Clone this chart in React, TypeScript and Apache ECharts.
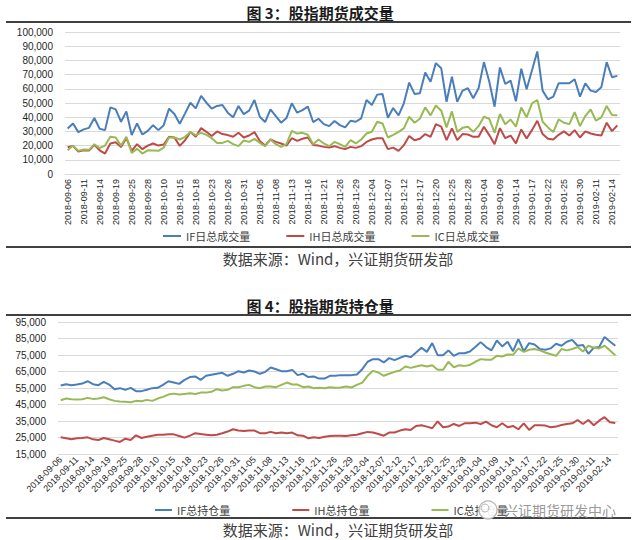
import React, { useEffect, useRef } from "react";
import * as echarts from "echarts";

const dates = [
  "2018-09-06","2018-09-07","2018-09-10","2018-09-11","2018-09-12","2018-09-13","2018-09-14","2018-09-17","2018-09-18","2018-09-19",
  "2018-09-20","2018-09-21","2018-09-25","2018-09-26","2018-09-27","2018-09-28","2018-10-08","2018-10-09","2018-10-10","2018-10-11",
  "2018-10-12","2018-10-15","2018-10-16","2018-10-17","2018-10-18","2018-10-19","2018-10-22","2018-10-23","2018-10-24","2018-10-25",
  "2018-10-26","2018-10-29","2018-10-30","2018-10-31","2018-11-01","2018-11-02","2018-11-05","2018-11-06","2018-11-07","2018-11-08",
  "2018-11-09","2018-11-12","2018-11-13","2018-11-14","2018-11-15","2018-11-16","2018-11-19","2018-11-20","2018-11-21","2018-11-22",
  "2018-11-23","2018-11-26","2018-11-27","2018-11-28","2018-11-29","2018-11-30","2018-12-03","2018-12-04","2018-12-05","2018-12-06",
  "2018-12-07","2018-12-10","2018-12-11","2018-12-12","2018-12-13","2018-12-14","2018-12-17","2018-12-18","2018-12-19","2018-12-20",
  "2018-12-21","2018-12-24","2018-12-25","2018-12-26","2018-12-27","2018-12-28","2019-01-02","2019-01-03","2019-01-04","2019-01-07",
  "2019-01-08","2019-01-09","2019-01-10","2019-01-11","2019-01-14","2019-01-15","2019-01-16","2019-01-17","2019-01-18","2019-01-21",
  "2019-01-22","2019-01-23","2019-01-24","2019-01-25","2019-01-28","2019-01-29","2019-01-30","2019-01-31","2019-02-01","2019-02-11",
  "2019-02-12","2019-02-13","2019-02-14","2019-02-15",
];

// 图3 日总成交量
const ifVolume = [
  32000,35600,29500,31400,32500,39400,31800,30900,46900,45500,
  36800,44100,27400,35600,27800,30400,34400,30900,34400,46000,
  42200,35400,42700,50200,46200,55000,50200,46000,47900,48600,
  43200,39900,47900,42200,44600,52100,40300,36600,45500,40800,
  36100,39400,49800,43200,45000,47400,36600,38900,35100,33700,
  37300,34400,32800,37500,36800,39200,52100,48600,55900,56400,
  39600,46500,41300,49800,64400,56400,56800,71500,64900,78100,
  74500,50900,68600,50900,58700,60400,53300,60400,78800,65100,
  47400,75000,63400,65800,51200,74100,59700,72900,86300,58700,
  52600,54500,63900,63900,63900,66700,54500,63900,58700,57800,
  61100,78800,68200,69100,
];
const ihVolume = [
  18900,19800,15800,16700,16500,20500,16700,14400,21500,22400,
  19100,25200,16300,21000,17500,20000,21500,20000,20800,26200,
  25700,19800,23800,29500,26200,32300,29700,26700,30000,28100,
  27400,26200,29000,25700,27100,29500,23300,20000,24300,22600,
  21500,20000,25200,23300,24800,25700,20500,20000,19100,18600,
  19600,18400,17500,19100,18400,19600,22600,24300,25200,25200,
  17500,18600,16300,20300,26700,23800,24800,28100,26200,35100,
  33300,23800,32100,23800,28100,27800,26200,26200,33300,27400,
  21000,32300,25200,27100,21500,31400,25000,30900,37500,28100,
  24800,24300,27600,30000,27100,30900,25700,30000,28500,27600,
  27100,36100,30200,34200,
];
const icVolume = [
  16700,20000,16300,17200,17000,21000,18200,20000,26200,25700,
  20000,26200,14900,17700,14400,16700,16500,16300,18600,25700,
  25700,24300,26200,29500,27400,29000,27600,25200,21900,21900,
  23300,21000,19600,23600,22600,24800,21900,19600,24300,21000,
  19100,21000,30400,28500,29000,27600,21000,24300,21500,19600,
  22600,21000,19100,23800,21500,24300,28500,29700,36800,35600,
  25700,27600,29700,32100,40300,36100,38900,46900,41300,48300,
  44600,32800,44100,29700,32500,33300,29700,33700,40300,38900,
  29000,42200,35100,38400,33300,46900,39900,49800,52100,36800,
  32800,29500,38400,36100,35100,43600,33700,40800,45500,37500,
  39900,47900,41500,41300,
];

// 图4 总持仓量
const ifOpenInterest = [
  56500,57300,56700,57100,57700,59100,57300,56700,58700,57100,
  54300,54900,53900,55100,53100,53100,53900,54900,55100,56900,
  59100,58300,57500,59900,61600,62000,59900,62400,63000,63600,
  64200,62400,63600,65200,64400,65600,65000,63600,64800,67400,
  66400,65200,65200,66000,62800,63600,61600,62000,60700,60700,
  62400,62400,62800,62800,62800,63200,66400,70900,72500,72500,
  70500,73100,71900,73300,74500,73700,76500,79400,76900,82200,
  74900,74900,77800,74500,76100,76100,77100,79800,82800,79800,
  77800,83800,80200,83000,77300,84600,77300,82200,81400,78600,
  78200,79000,81800,80600,83000,84200,80600,81000,75700,79400,
  79800,85900,83200,80600,
];
const ihOpenInterest = [
  25100,24500,23900,24500,24700,25100,23900,23500,24700,23900,
  23100,22300,24300,23500,26300,24700,25500,26100,26700,26700,
  26900,26900,25900,24900,26100,27600,27100,26700,26300,26700,
  27600,28600,30000,29200,29000,29200,29200,27600,27600,28400,
  27600,28000,27600,28000,26300,26100,24500,25100,24700,25500,
  25900,26100,26100,25900,26300,26700,27600,28400,28000,27100,
  26100,28000,28000,29200,30000,29600,32000,32400,31600,30600,
  34800,31200,31600,33200,32000,33600,33600,34000,33200,34600,
  32400,31200,33600,31200,32000,30000,33600,29600,32400,32400,
  32200,31200,31600,32600,33200,33600,35600,33200,35600,32400,
  35200,37300,34200,33800,
];
const icOpenInterest = [
  47600,48600,48200,48000,48200,49000,48400,48600,49400,48200,
  47200,46800,46600,46400,47200,47000,47800,47200,48600,49600,
  51000,51600,51000,51400,51800,51400,52200,52200,52700,54300,
  53500,53900,55500,55500,56300,56900,55500,54900,55900,55900,
  55500,56900,58300,57100,57100,55500,55900,54900,55100,54900,
  55500,55100,55300,55900,55300,56900,58300,62400,65400,64400,
  62400,63600,64800,65600,68000,67200,68000,68800,68000,68800,
  66000,66000,70900,67600,68800,68400,69000,70900,72500,72100,
  72100,74500,74100,75300,75100,79000,76900,78200,78600,77800,
  76500,75500,74500,78600,77800,78600,79800,77100,80600,79400,
  79000,80600,77800,74900,
];

const volumeNames = ["IF日总成交量", "IH日总成交量", "IC日总成交量"];
const oiNames = ["IF总持仓量", "IH总持仓量", "IC总持仓量"];
const titles = ["图 3：股指期货成交量", "图 4：股指期货持仓量"];
const sourceText = "数据来源：Wind，兴证期货研发部";
const watermarkText = "兴证期货研发中心";

const COLORS = ["#4A7EBB", "#BE4B48", "#98B954"];
const LATIN = '"Liberation Sans", Arial, sans-serif';
const CJK = '"Noto Sans CJK SC", "Liberation Sans", sans-serif';

const fmt = (v: number) => v.toLocaleString("en-US");

export default function App() {
  const ref = useRef<HTMLDivElement>(null);
  useEffect(() => {
    if (!ref.current) return;
    const chart = echarts.init(ref.current, undefined, { renderer: "svg" });

    const xAxisBase = (gridIndex: number, rotate: number, margin: number) => ({
      type: "category",
      gridIndex,
      data: dates,
      boundaryGap: true,
      axisTick: { show: false },
      axisLine: { show: true, lineStyle: { color: "#D9D9D9", width: 1 } },
      axisLabel: {
        interval: 2,
        rotate,
        margin,
        fontSize: 9,
        color: "#262626",
        fontFamily: LATIN,
      },
    });
    const yAxisBase = (gridIndex: number, min: number, max: number) => ({
      type: "value",
      gridIndex,
      min,
      max,
      interval: 10000,
      axisLine: { show: false },
      axisTick: { show: false },
      splitLine: { lineStyle: { color: "#D9D9D9", width: 1 } },
      axisLabel: {
        formatter: (v: number) => fmt(v),
        fontSize: 10,
        margin: 12,
        color: "#1f1f1f",
        fontFamily: LATIN,
      },
    });
    const lineSeries = (name: string, data: number[], color: string, idx: number) => ({
      name,
      type: "line",
      xAxisIndex: idx,
      yAxisIndex: idx,
      data,
      symbol: "none",
      showSymbol: false,
      lineStyle: { color, width: 2 },
      itemStyle: { color },
    });

    const hr = (y: number) => ({
      type: "line",
      shape: { x1: 6, y1: y, x2: 631, y2: y },
      style: { stroke: "#000", lineWidth: 1.5 },
    });
    const txt = (text: string, x: number, y: number, font: string, fill: string, align = "center", lh = 16) => ({
      type: "text",
      x,
      y,
      style: { text, font, fill, lineHeight: lh, textAlign: align, textVerticalAlign: "middle", verticalAlign: "middle" },
    });

    chart.setOption({
      animation: false,
      backgroundColor: "#fff",
      grid: [
        { left: 65, top: 32, width: 555, height: 142, containLabel: false },
        { left: 58, top: 322, width: 560, height: 132, containLabel: false },
      ],
      xAxis: [xAxisBase(0, 90, 5), xAxisBase(1, 45, 4)],
      yAxis: [yAxisBase(0, 0, 100000), yAxisBase(1, 15000, 95000)],
      legend: [
        {
          data: volumeNames,
          left: 163,
          top: 230,
          padding: 0,
          icon: "rect",
          itemWidth: 18,
          itemHeight: 2,
          itemGap: 36,
          textStyle: { fontSize: 11, color: "#404040", fontFamily: CJK, lineHeight: 12 },
        },
        {
          data: oiNames,
          left: 155,
          top: 504,
          padding: 0,
          icon: "rect",
          itemWidth: 17,
          itemHeight: 2,
          itemGap: 62,
          textStyle: { fontSize: 11, color: "#404040", fontFamily: CJK, lineHeight: 12 },
        },
      ],
      series: [
        lineSeries(volumeNames[0], ifVolume, COLORS[0], 0),
        lineSeries(volumeNames[1], ihVolume, COLORS[1], 0),
        lineSeries(volumeNames[2], icVolume, COLORS[2], 0),
        lineSeries(oiNames[0], ifOpenInterest, COLORS[0], 1),
        lineSeries(oiNames[1], ihOpenInterest, COLORS[1], 1),
        lineSeries(oiNames[2], icOpenInterest, COLORS[2], 1),
      ],
      graphic: [
        txt(titles[0], 320, 12, `bold 15px ${CJK}`, "#1a1a1a"),
        hr(22),
        hr(247),
        txt(sourceText, 338, 258, `15px ${CJK}`, "#404040"),
        txt(titles[1], 320, 305, `bold 15px ${CJK}`, "#1a1a1a"),
        hr(315),
        hr(518),
        txt(sourceText, 338, 529, `15px ${CJK}`, "#404040"),
        {
          type: "circle",
          shape: { cx: 488, cy: 510, r: 9 },
          style: { fill: "rgba(255,255,255,0.9)", stroke: "#b5b5b5", lineWidth: 1.2 },
          z: 100,
        },
        {
          type: "circle",
          shape: { cx: 485, cy: 508, r: 4 },
          style: { fill: "none", stroke: "#b5b5b5", lineWidth: 1 },
          z: 101,
        },
        {
          ...txt(watermarkText, 504, 510, `14px ${CJK}`, "rgba(140,140,140,0.9)", "left", 14),
          z: 101,
        },
      ],
    });
    return () => chart.dispose();
  }, []);

  return (
    <div
      ref={ref}
      style={{ position: "absolute", left: 0, top: 0, width: 638, height: 540, background: "#fff" }}
    />
  );
}
